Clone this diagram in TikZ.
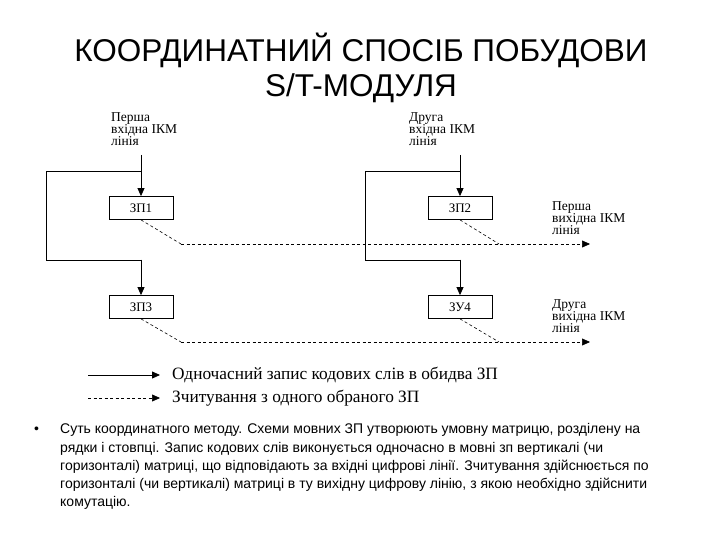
\documentclass[tikz,border=0pt]{standalone}
\usepackage{fontspec}
\setmainfont{Liberation Serif}
\newfontfamily\sans{Liberation Sans}
\usetikzlibrary{arrows.meta}
\begin{document}
\begin{tikzpicture}[x=1pt,y=-1pt,
  box/.style={draw,line width=0.8pt,minimum width=64pt,minimum height=23pt,inner sep=0pt,font=\fontsize{13}{14}\selectfont},
  lab/.style={anchor=north west,align=left,font=\fontsize{13.5}{12}\selectfont,inner sep=0pt},
  sol/.style={line width=0.8pt},
  arr/.style={line width=0.8pt,-{Triangle[length=8pt,width=7pt]}},
  dsh/.style={line width=0.6pt,dash pattern=on 3pt off 2.5pt},
  darr/.style={dsh,-{Triangle[length=8pt,width=7pt]}},
  body/.style={anchor=west,inner sep=0pt,font=\sans\fontsize{14}{14}\selectfont}]
\useasboundingbox (0,0) rectangle (720,540);
\node[font=\sans\fontsize{31.5}{30}\selectfont] (t1) at (361,50) {КООРДИНАТНИЙ СПОСІБ ПОБУДОВИ};
\node[font=\sans\fontsize{31.5}{30}\selectfont] (t2) at (361,88) {S/T-МОДУЛЯ};
\node[lab] (in1) at (111,112) {Перша\\вхідна ІКМ\\лінія};
\node[lab] (in2) at (409,112) {Друга\\вхідна ІКМ\\лінія};
\node[lab] (out1) at (552,201) {Перша\\вихідна ІКМ\\лінія};
\node[lab] (out2) at (552,299) {Друга\\вихідна ІКМ\\лінія};
\node[box] (z1) at (141,208) {ЗП1};
\node[box] (z2) at (460,208) {ЗП2};
\node[box] (z3) at (141,307) {ЗП3};
\node[box] (z4) at (460,307) {ЗУ4};
\coordinate (s1) at (141,155);
\coordinate (s2) at (460,155);
\draw[arr] (s1) -- (z1.north);
\draw[arr] (s2) -- (z2.north);
\draw[sol] (141,171) -- (46,171) -- (46,260) -- (141,260);
\draw[arr] (141,259.6) -- (z3.north);
\draw[sol] (460,171) -- (365,171) -- (365,260) -- (460,260);
\draw[arr] (460,259.6) -- (z4.north);
\coordinate (e1) at (590,244);
\coordinate (e2) at (590,342);
\draw[dsh] (z1.south) -- (181,244);
\draw[darr] (181,244) -- (e1);
\draw[dsh] (z2.south) -- (499,244);
\draw[dsh] (z3.south) -- (181,342);
\draw[darr] (181,342) -- (e2);
\draw[dsh] (z4.south) -- (499,342);
\coordinate (l1a) at (88,375); \coordinate (l1b) at (160,375);
\coordinate (l2a) at (88,398); \coordinate (l2b) at (160,398);
\draw[arr] (l1a) -- (l1b);
\draw[darr] (l2a) -- (l2b);
\node[anchor=west,inner sep=0pt,font=\fontsize{17.3}{14}\selectfont] (lt1) at (172,375) {Одночасний запис кодових слів в обидва ЗП};
\node[anchor=west,inner sep=0pt,font=\fontsize{17.3}{14}\selectfont] (lt2) at (172,398) {Зчитування з одного обраного ЗП};
\node[body] (bul) at (34,430) {•};
\node[body] (b1) at (60,430) {Суть координатного методу. Схеми мовних ЗП утворюють умовну матрицю, розділену на};
\node[body] (b2) at (60,449) {рядки і стовпці. Запис кодових слів виконується одночасно в мовні зп вертикалі (чи};
\node[body] (b3) at (60,467) {горизонталі) матриці, що відповідають за вхідні цифрові лінії. Зчитування здійснюється по};
\node[body] (b4) at (60,485) {горизонталі (чи вертикалі) матриці в ту вихідну цифрову лінію, з якою необхідно здійснити};
\node[body] (b5) at (60,503) {комутацію.};
\end{tikzpicture}
\end{document}
